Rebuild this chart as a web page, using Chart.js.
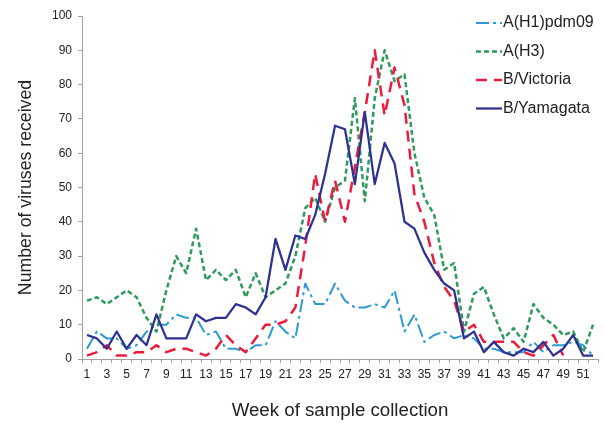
<!DOCTYPE html>
<html>
<head>
<meta charset="utf-8">
<script src="https://cdn.jsdelivr.net/npm/chart.js@4"></script>
<style>
  html, body { margin: 0; padding: 0; background: #fff; }
  #wrap { width: 605px; height: 423px; }
</style>
</head>
<body>
<div id="wrap"><canvas id="virusChart" width="605" height="423"></canvas></div>
<script>
// week numbers along the x axis
const weeks = ['1','2','3','4','5','6','7','8','9','10','11','12','13','14','15','16','17','18','19','20',
  '21','22','23','24','25','26','27','28','29','30','31','32','33','34','35','36','37','38','39','40',
  '41','42','43','44','45','46','47','48','49','50','51','52'];

// viruses received per week
const h1pdm09 = [3,8,6,6,3,4,8,10,10,13,12,12,7,8,3,3,2,4,4,11,8,6,22,16,16,22,17,15,15,16,
  15,20,8,13,5,7,8,6,7,6,3,3,2,2,2,5,2,4,4,5,4,1];
const h3 = [17,18,16,18,20,18,12,8,20,30,25,38,23,26,23,26,18,25,18,20,22,30,44,47,40,50,52,76,46,76,
  90,81,83,60,47,42,26,28,8,19,21,13,6,9,5,16,12,10,7,8,2,10];
const bVictoria = [1,2,4,1,1,2,2,4,2,3,3,2,1,3,7,4,2,6,10,10,11,15,33,54,40,52,40,56,72,90,
  71,85,74,48,40,28,21,17,8,10,5,5,5,5,2,1,4,7,1,null,null,null];
const bYamagata = [7,6,3,8,3,7,4,13,6,6,6,13,11,12,12,16,15,13,18,35,26,36,35,42,54,68,67,51,72,51,
  63,57,40,38,31,26,22,20,6,8,2,5,2,1,3,2,5,1,3,7,1,1];

const seriesNames = ['A(H1)pdm09', 'A(H3)', 'B/Victoria', 'B/Yamagata'];
const yTicks = [0, 10, 20, 30, 40, 50, 60, 70, 80, 90, 100];

const fontFamily = '"Liberation Sans", Arial, sans-serif';
const axisColor = '#a0a0a0';
const textColor = '#222';

// legend drawn inside the plot, top right, like the original
const insideLegend = {
    id: 'insideLegend',
    afterDraw(chart) {
        const ctx = chart.ctx;
        const area = chart.chartArea;
        const x0 = area.right - 122;
        ctx.save();
        chart.data.datasets.forEach((ds, i) => {
            const y = area.top + 7 + i * 28.5;
            ctx.beginPath();
            ctx.setLineDash(ds.borderDash || []);
            ctx.lineWidth = ds.borderWidth;
            ctx.strokeStyle = ds.borderColor;
            ctx.moveTo(x0, y);
            ctx.lineTo(x0 + 26, y);
            ctx.stroke();
            ctx.setLineDash([]);
            ctx.fillStyle = textColor;
            ctx.font = '16px ' + fontFamily;
            ctx.textBaseline = 'middle';
            ctx.textAlign = 'left';
            ctx.fillText(ds.label, x0 + 27, y);
        });
        ctx.restore();
    }
};

const ctx = document.getElementById('virusChart').getContext('2d');
new Chart(ctx, {
    type: 'line',
    data: {
        labels: weeks,
        datasets: [
            { label: seriesNames[0], data: h1pdm09, borderColor: '#2c9ad5', borderWidth: 2,
              borderDash: [13, 4, 3, 4], order: 3 },
            { label: seriesNames[1], data: h3, borderColor: '#2f9a5e', borderWidth: 2.5,
              borderDash: [5, 3], order: 2 },
            { label: seriesNames[2], data: bVictoria, borderColor: '#ec1c3d', borderWidth: 2.5,
              borderDash: [11, 7], order: 1 },
            { label: seriesNames[3], data: bYamagata, borderColor: '#2e3192', borderWidth: 2.25,
              order: 0 }
        ]
    },
    options: {
        responsive: false,
        animation: false,
        devicePixelRatio: 1,
        layout: { padding: { top: 16, right: 7, left: 0, bottom: 0 } },
        elements: {
            point: { radius: 0, hoverRadius: 0 },
            line: { tension: 0, fill: false, borderCapStyle: 'butt', borderJoinStyle: 'round' }
        },
        plugins: {
            legend: { display: false },
            tooltip: { enabled: false }
        },
        scales: {
            x: {
                type: 'category',
                offset: true,
                grid: { offset: true, drawOnChartArea: false, drawTicks: true, tickLength: 4, color: axisColor },
                border: { display: true, color: axisColor, width: 1 },
                ticks: {
                    autoSkip: false,
                    maxRotation: 0,
                    minRotation: 0,
                    padding: 4,
                    color: textColor,
                    font: { family: fontFamily, size: 12 },
                    callback: function (val, idx) {
                        return idx % 2 === 0 ? this.getLabelForValue(val) : '';
                    }
                },
                title: {
                    display: true,
                    text: 'Week of sample collection',
                    color: textColor,
                    font: { family: fontFamily, size: 18.7 },
                    padding: { top: 0, bottom: 1 }
                },
                afterFit: (scale) => { scale.height = 64; }
            },
            y: {
                min: 0,
                max: 100,
                afterBuildTicks: (scale) => { scale.ticks = yTicks.map(v => ({ value: v })); },
                grid: { drawOnChartArea: false, drawTicks: true, tickLength: 4, color: axisColor },
                border: { display: true, color: axisColor, width: 1 },
                ticks: {
                    padding: 6,
                    color: textColor,
                    font: { family: fontFamily, size: 12 }
                },
                title: {
                    display: true,
                    text: 'Number of viruses received',
                    color: textColor,
                    font: { family: fontFamily, size: 17.7 },
                    padding: { top: 15, bottom: 0 }
                },
                afterFit: (scale) => { scale.width = 82; }
            }
        }
    },
    plugins: [insideLegend]
});
</script>
</body>
</html>
